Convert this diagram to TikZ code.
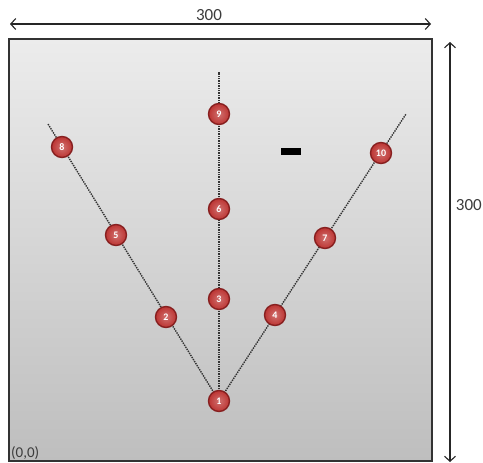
\documentclass[tikz,border=0pt]{standalone}
\usepackage{fontspec}
\setmainfont{Carlito}
\usetikzlibrary{arrows.meta}
\pgfdeclarelayer{board}
\pgfdeclarelayer{bg}
\pgfsetlayers{board,bg,main}
\definecolor{ballred}{RGB}{188,52,50}
\definecolor{balledge}{RGB}{135,32,32}
\definecolor{topgray}{RGB}{236,236,236}
\definecolor{botgray}{RGB}{190,190,190}
\definecolor{txtgray}{RGB}{60,60,60}
\tikzset{
  ball/.style={circle, minimum size=21pt, inner sep=0pt, draw=balledge, line width=1.4pt,
    inner color=ballred!70!white, outer color=ballred, text=white, font=\fontsize{10}{11}\selectfont\bfseries},
  dotline/.style={densely dotted, line width=1.4pt, draw=black!80},
  dimarrow/.style={{Straight Barb[length=5pt,width=11pt]}-{Straight Barb[length=5pt,width=11pt]}, line width=1.1pt, draw=black!85},
  dimlabel/.style={font=\fontsize{17}{19}\selectfont, text=txtgray}
}
\begin{document}
\begin{tikzpicture}[x=1pt,y=-1pt]
\useasboundingbox (0,0) rectangle (483,463);
\begin{pgfonlayer}{board}
\fill[white] (0,0) rectangle (483,463);
\shade[top color=topgray, bottom color=botgray] (9,39) rectangle (432,461);
\draw[line width=1.3pt, black!80] (9,39) rectangle (432,461);
\end{pgfonlayer}
% dimension arrows
\coordinate (tl) at (10,24);
\coordinate (tr) at (431,24);
\draw[dimarrow] (tl) -- (tr);
\node[dimlabel] (toplabel) at (209,15) {300};
\coordinate (rt) at (450,42);
\coordinate (rb) at (450,462);
\draw[dimarrow] (rt) -- (rb);
\node[dimlabel, anchor=east, inner sep=0pt] (rightlabel) at (482,205) {300};
\node[dimlabel, anchor=south west, inner sep=0pt, font=\fontsize{15}{16}\selectfont] (origin) at (11,460) {(0,0)};
% free ends of the lines
\coordinate (endL) at (48,124);
\coordinate (endC) at (219,72);
\coordinate (endR) at (406,114);
% balls
\node[ball] (n1) at (219,401) {1};
\node[ball] (n2) at (166,317) {2};
\node[ball] (n3) at (219,299) {3};
\node[ball] (n4) at (275,315) {4};
\node[ball] (n5) at (116,235) {5};
\node[ball] (n6) at (219,209) {6};
\node[ball] (n7) at (325,238) {7};
\node[ball] (n8) at (62,147) {8};
\node[ball] (n9) at (219,114) {9};
\node[ball] (n10) at (381,153) {10};
\begin{pgfonlayer}{bg}
\draw[dotline] (n1.center) -- (endL);
\draw[dotline] (n1.center) -- (endC);
\draw[dotline] (n1.center) -- (endR);
\end{pgfonlayer}
% black dash
\fill[black] (281,148) rectangle (301,155);
\end{tikzpicture}
\end{document}
